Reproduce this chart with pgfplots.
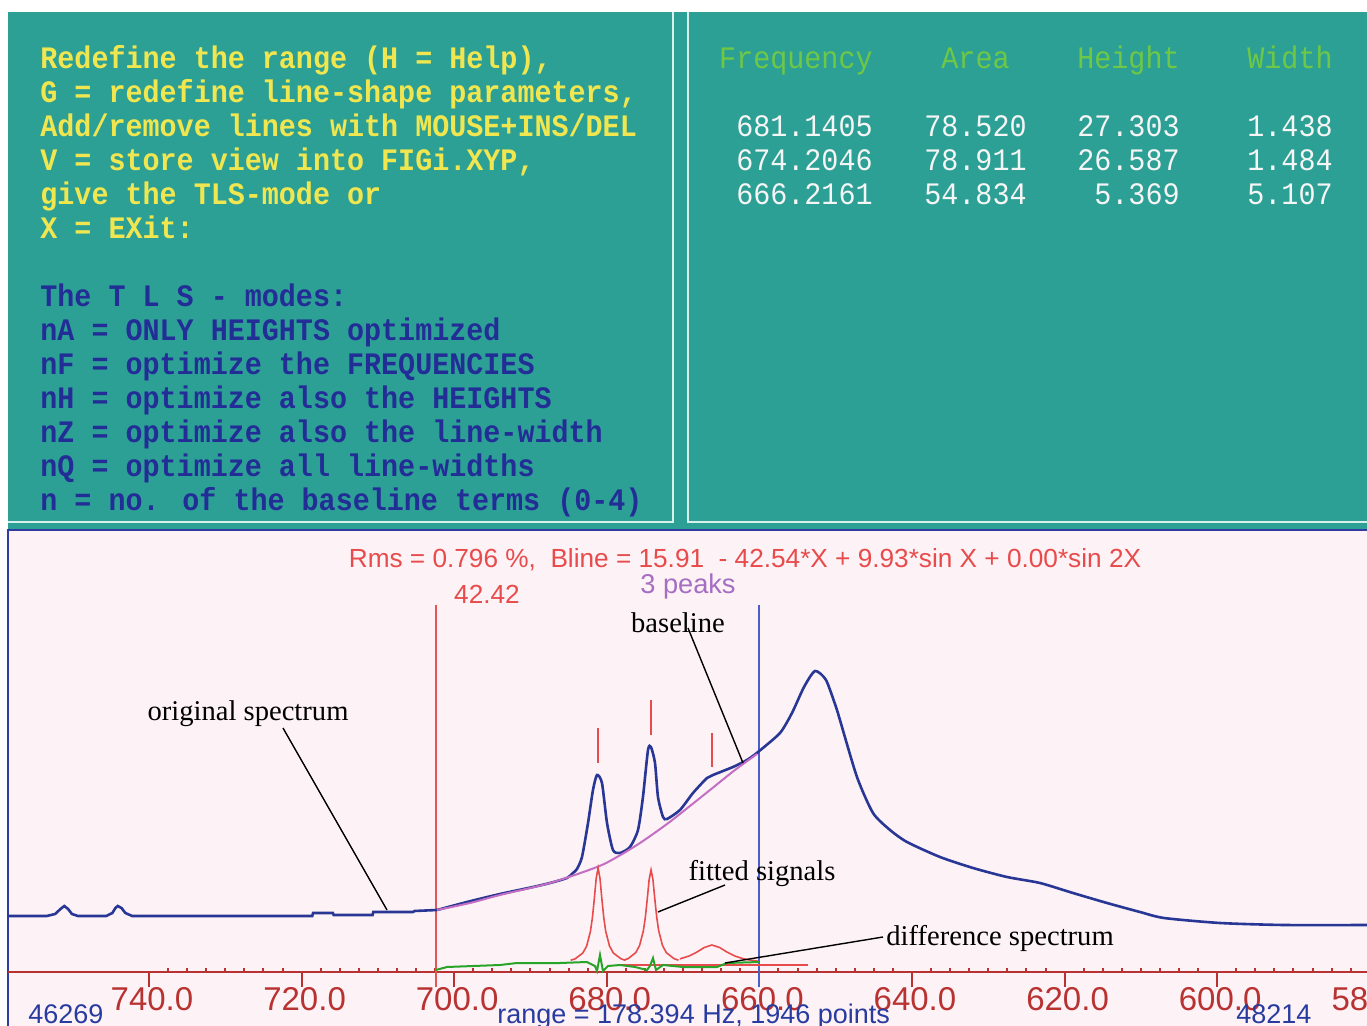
\documentclass[border=0pt]{standalone}
\usepackage{pgfplots}
\pgfplotsset{compat=1.18}
\usepackage{fontspec}
\setmainfont{Liberation Sans}
\newfontfamily\serifT{Liberation Serif}
\newfontfamily\monoT{Liberation Mono}
\definecolor{teal1}{RGB}{45,160,150}
\definecolor{pinkbg}{RGB}{253,242,245}
\definecolor{spblue}{RGB}{40,55,150}
\definecolor{blpurple}{RGB}{195,110,195}
\definecolor{fitred}{RGB}{232,75,75}
\definecolor{diffgreen}{RGB}{40,165,40}
\definecolor{axred}{RGB}{185,50,50}
\definecolor{vblue}{RGB}{75,95,200}
\definecolor{vred}{RGB}{230,85,85}
\definecolor{dosyellow}{RGB}{240,230,80}
\definecolor{dosblue}{RGB}{35,45,150}
\definecolor{dosgreen}{RGB}{110,200,70}
\definecolor{doswhite}{RGB}{245,245,245}
\definecolor{frameblue}{RGB}{50,60,160}
\definecolor{txtblue}{RGB}{40,60,160}
\definecolor{peakpurple}{RGB}{165,110,195}
\definecolor{sepline}{RGB}{215,240,238}

\begin{document}
\begin{tikzpicture}
\begin{scope}[x=0.5pt,y=-0.5pt]
\fill[white] (0,0) rectangle (1367,1026);
\fill[teal1] (8,12) rectangle (1367,529);
\draw[sepline, line width=1pt] (8,522) -- (673,522) -- (673,12);
\draw[sepline, line width=1pt] (1367,522) -- (688,522) -- (688,12);
\fill[pinkbg] (8,530) rectangle (1367,1026);
\draw[frameblue, line width=1pt] (8,1026) -- (8,530) -- (1367,530);
% left panel text
\begin{scope}[every node/.style={anchor=base west, inner sep=0pt, yscale=1.1, font=\monoT\bfseries\fontsize{14.2}{17}\selectfont}]
\node[text=dosyellow] at (40,69) {Redefine the range (H = Help),};
\node[text=dosyellow] at (40,103) {G = redefine line-shape parameters,};
\node[text=dosyellow] at (40,137) {Add/remove lines with MOUSE+INS/DEL};
\node[text=dosyellow] at (40,171) {V = store view into FIGi.XYP,};
\node[text=dosyellow] at (40,205) {give the TLS-mode or};
\node[text=dosyellow] at (40,239) {X = EXit:};
\node[text=dosblue] at (40,307) {The T L S - modes:};
\node[text=dosblue] at (40,341) {nA = ONLY HEIGHTS optimized};
\node[text=dosblue] at (40,375) {nF = optimize the FREQUENCIES};
\node[text=dosblue] at (40,409) {nH = optimize also the HEIGHTS};
\node[text=dosblue] at (40,443) {nZ = optimize also the line-width};
\node[text=dosblue] at (40,477) {nQ = optimize all line-widths};
\node[text=dosblue] at (40,511) {n = no. of the baseline terms (0-4)};
\end{scope}
% right panel table
\begin{scope}[every node/.style={anchor=base east, inner sep=0pt, yscale=1.1, font=\monoT\fontsize{14.2}{17}\selectfont}]
\node[text=dosgreen] at (873,69) {Frequency};
\node[text=dosgreen] at (1010,69) {Area};
\node[text=dosgreen] at (1180,69) {Height};
\node[text=dosgreen] at (1333,69) {Width};
\node[text=doswhite] at (873,137) {681.1405};
\node[text=doswhite] at (1027,137) {78.520};
\node[text=doswhite] at (1180,137) {27.303};
\node[text=doswhite] at (1333,137) {1.438};
\node[text=doswhite] at (873,171) {674.2046};
\node[text=doswhite] at (1027,171) {78.911};
\node[text=doswhite] at (1180,171) {26.587};
\node[text=doswhite] at (1333,171) {1.484};
\node[text=doswhite] at (873,205) {666.2161};
\node[text=doswhite] at (1027,205) {54.834};
\node[text=doswhite] at (1180,205) {5.369};
\node[text=doswhite] at (1333,205) {5.107};
\end{scope}
\end{scope}

\begin{axis}[
  at={(4pt,-486pt)}, anchor=south west,
  scale only axis, width=680.9pt, height=221pt,
  xmin=580, xmax=758.48, ymin=0, ymax=442,
  x dir=reverse,
  clip=false,
  axis y line=none,
  axis x line*=bottom,
  x axis line style={draw=axred, line width=1pt, -},
  xtick={580,600,...,740},
  xticklabels={580.0,600.0,620.0,640.0,660.0,680.0,700.0,720.0,740.0},
  minor x tick num=7,
  tick align=outside,
  major tick length=7.5pt,
  minor tick length=2pt,
  xtick style={draw=axred, line width=1pt},
  every minor tick/.append style={yshift=2pt},
  xticklabel style={font=\fontsize{16.5}{16}\selectfont, text=axred, inner sep=0pt, xshift=1.5pt},
]
% range limits
\addplot[vred, line width=0.9pt] coordinates {(702.42,-15) (702.42,367)};
\addplot[vblue, line width=0.9pt] coordinates {(660.0,-15) (660.0,367)};
% original spectrum: flat part
\addplot[spblue, line width=1.3pt] coordinates {
(758.48,56) (753.4,56) (752.3,58) (751.6,63) (751.1,66) (750.6,63) (750.1,58) (749.3,56)
(745.6,56) (744.8,59) (744.4,64) (744.1,66) (743.6,64) (743.1,59) (742.2,56)
(718.6,56) (718.5,59) (715.9,59) (715.8,57) (710.7,57) (710.6,60)
(705.4,60) (705.2,61) (702.25,62)
};
% original spectrum: fitted range and main band
\addplot[spblue, line width=1.3pt, smooth, tension=0.4] coordinates {
(702.25,62) (698.32,70) (694.0,78) (689.67,85)
(687.44,89) (685.22,94) (684.43,99) (683.91,103) (683.25,115) (682.46,149)
(681.81,182) (681.28,197) (680.63,189) (679.97,149) (679.19,122) (678.27,119)
(676.96,125) (675.91,142) (675.26,175) (674.60,222) (674.21,225) (673.68,209)
(673.29,175) (672.63,155) (672.11,153) (670.41,162) (668.70,179) (666.87,194)
(666.08,197) (663.46,205) (661.63,212) (660.18,220) (657.30,239) (655.73,259)
(654.15,285) (652.71,301) (651.27,292) (649.96,265) (649.44,252) (647.21,195)
(645.11,159) (642.88,142) (640.66,130) (636.33,115) (632.0,104) (627.55,95)
(623.22,89) (618.90,79) (614.44,69) (610.12,60) (606.97,54) (599.63,49)
(591.25,47) (580.0,47)
};
% baseline
\addplot[blpurple, line width=1pt, smooth] coordinates {
(702.25,62) (697.93,69) (694.00,77) (687.44,89) (681.28,105) (678.66,115)
(675.65,129) (672.11,148) (669.10,166) (666.47,182) (663.20,202) (660.31,218)
};
% fitted signals
\addplot[fitred, line width=0.8pt] coordinates {
(684.74,11.7) (684.14,13.2) (683.14,19.0) (682.64,25.9) (682.14,40.7) (681.89,54.0)
(681.64,72.7) (681.39,93.6) (681.14,104.0) (680.89,93.6) (680.64,72.7) (680.39,54.0)
(680.14,40.7) (679.64,25.9) (679.14,19.0) (678.14,13.2) (677.54,11.7)
};
\addplot[fitred, line width=0.8pt] coordinates {
(677.80,11.8) (677.20,13.4) (676.20,19.4) (675.70,26.5) (675.20,41.4) (674.95,54.5)
(674.70,72.6) (674.45,92.4) (674.20,102.0) (673.95,92.4) (673.70,72.6) (673.45,54.5)
(673.20,41.4) (672.70,26.5) (672.20,19.4) (671.20,13.4) (670.60,11.8)
};
\addplot[fitred, line width=0.8pt] coordinates {
(670.42,13.1) (669.22,16.0) (668.22,19.8) (667.22,24.5) (666.22,27.0) (665.22,24.5)
(664.22,19.8) (663.22,16.0) (662.22,13.5) (661.22,11.9) (660.22,10.9)
};
\addplot[fitred, line width=0.8pt] coordinates {(678.66,7) (653.63,7)};
% peak markers
\addplot[fitred, line width=1pt] coordinates {(681.14,209) (681.14,244)};
\addplot[fitred, line width=1pt] coordinates {(674.20,237) (674.20,272)};
\addplot[fitred, line width=1pt] coordinates {(666.22,205) (666.22,239)};
% difference spectrum
\addplot[diffgreen, line width=1pt] coordinates {
(702.42,2) (700.94,5) (694.0,7) (691.77,9) (686.13,9) (682.60,10) (681.55,6)
(681.28,1) (680.89,17) (680.50,1) (679.84,6) (678.27,7) (676.30,5) (674.73,2)
(674.34,6) (673.94,14) (673.55,2) (672.63,7) (670.01,5) (665.56,5) (664.25,9) (660.0,10)
};
\end{axis}

\begin{scope}[x=0.5pt,y=-0.5pt]
\node[anchor=base, inner sep=0pt, text=fitred, font=\fontsize{13.1}{15}\selectfont] at (745,568) {Rms = 0.796 \%,\ \ Bline = 15.91\ \ - 42.54*X + 9.93*sin X + 0.00*sin 2X};
\node[anchor=base, inner sep=0pt, text=peakpurple, font=\fontsize{13.6}{15}\selectfont] at (688,594) {3 peaks};
\node[anchor=base, inner sep=0pt, text=fitred, font=\fontsize{13.1}{15}\selectfont] at (487,604) {42.42};
\begin{scope}[every node/.style={inner sep=0pt, font=\serifT\fontsize{14.3}{16}\selectfont}]
\node[anchor=base] at (678,633) {baseline};
\node[anchor=base] at (248,720) {original spectrum};
\node[anchor=base] at (762,880) {fitted signals};
\node[anchor=base west] at (886,945) {difference spectrum};
\end{scope}
\draw[black, line width=0.7pt] (283,728) -- (387,910);
\draw[black, line width=0.7pt] (688,628) -- (743,763);
\draw[black, line width=0.7pt] (725,885) -- (658,912);
\draw[black, line width=0.7pt] (883,937) -- (725,963);
\begin{scope}[every node/.style={anchor=base west, inner sep=0pt, text=txtblue, font=\fontsize{13.5}{15}\selectfont}]
\node at (28,1023) {46269};
\node at (497,1023) {range = 178.394 Hz,\ 1946\ points};
\node at (1236,1023) {48214};
\end{scope}
\end{scope}
\pgfresetboundingbox
\path[use as bounding box] (0pt,0pt) rectangle (683.5pt,-513pt);
\end{tikzpicture}
\end{document}
